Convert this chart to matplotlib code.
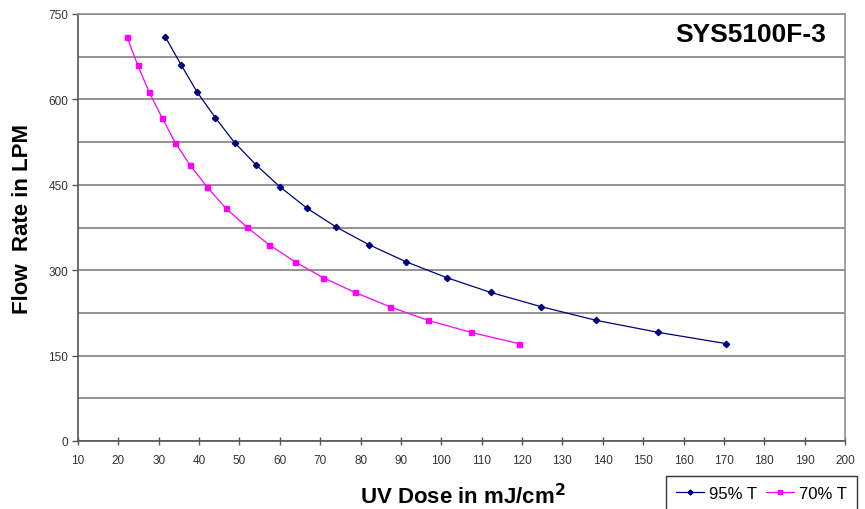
import numpy as np
import matplotlib.pyplot as plt
from matplotlib.ticker import MultipleLocator

plt.rcParams['font.family'] = ['Liberation Sans', 'DejaVu Sans']

# data
flow_lpm = [710, 660, 613, 568, 524, 485, 446, 409, 376, 345, 315, 287, 261, 236, 212, 191, 171]
dose_95 = [31.6, 35.6, 39.5, 44.0, 48.8, 54.1, 60.1, 66.7, 73.9, 82.0, 91.2, 101.3,
           112.2, 124.7, 138.3, 153.6, 170.6]
dose_70 = [22.1, 24.8, 27.6, 30.8, 34.1, 37.7, 42.0, 46.6, 51.8, 57.3, 63.7, 70.7,
           78.6, 87.2, 96.7, 107.3, 119.2]

fig = plt.figure(figsize=(8.65, 5.1), dpi=100)
ax = fig.add_axes([78/865, 1-442/510, (845-78)/865, (442-15)/510])

ax.plot(dose_95, flow_lpm, color='#000080', lw=0.9, marker='D', ms=3.2,
        label='95% T')
ax.plot(dose_70, flow_lpm, color='#FF00FF', lw=0.9, marker='s', ms=3.6,
        label='70% T')

ax.set_xlim(10, 200)
ax.set_ylim(0, 750)
ax.xaxis.set_major_locator(MultipleLocator(10))
ax.yaxis.set_major_locator(MultipleLocator(150))
ax.yaxis.set_minor_locator(MultipleLocator(75))
ax.grid(which='both', axis='y', color='#808080', lw=1.2)
ax.set_axisbelow(True)

for s in ['top', 'right']:
    ax.spines[s].set_color('#909090')
    ax.spines[s].set_linewidth(1.2)
for s in ['left', 'bottom']:
    ax.spines[s].set_color('#555555')
    ax.spines[s].set_linewidth(1.2)

ax.tick_params(axis='x', which='major', direction='inout', length=6, width=1,
               color='#555555', labelsize=8.5, labelcolor='#333333', pad=6)
ax.tick_params(axis='y', which='major', direction='out', length=4, width=1,
               color='#555555', labelsize=8.5, labelcolor='#333333', pad=3)
ax.tick_params(axis='y', which='minor', length=0)

ax.text(0.975, 0.954, 'SYS5100F-3', transform=ax.transAxes, ha='right',
        va='center', fontsize=19, fontweight='bold')

fig.text(23/865, 1-219/510, 'Flow  Rate in LPM', rotation=90, ha='center',
         va='center', fontsize=16, fontweight='bold')
fig.text(463/865, 1-497/510, 'UV Dose in mJ/cm$^\\mathbf{2}$', ha='center',
         va='center', fontsize=16, fontweight='bold')

leg = fig.legend(loc='upper left', bbox_to_anchor=(666/865, 1-477/510), ncol=2,
                 frameon=True, fancybox=False, fontsize=12, handlelength=1.7,
                 handletextpad=0.3, columnspacing=0.5, borderpad=0.6,
                 borderaxespad=0, markerscale=0.8)
leg.get_frame().set_edgecolor('black')
leg.get_frame().set_linewidth(1.0)

fig.savefig('out.png', dpi=100)
